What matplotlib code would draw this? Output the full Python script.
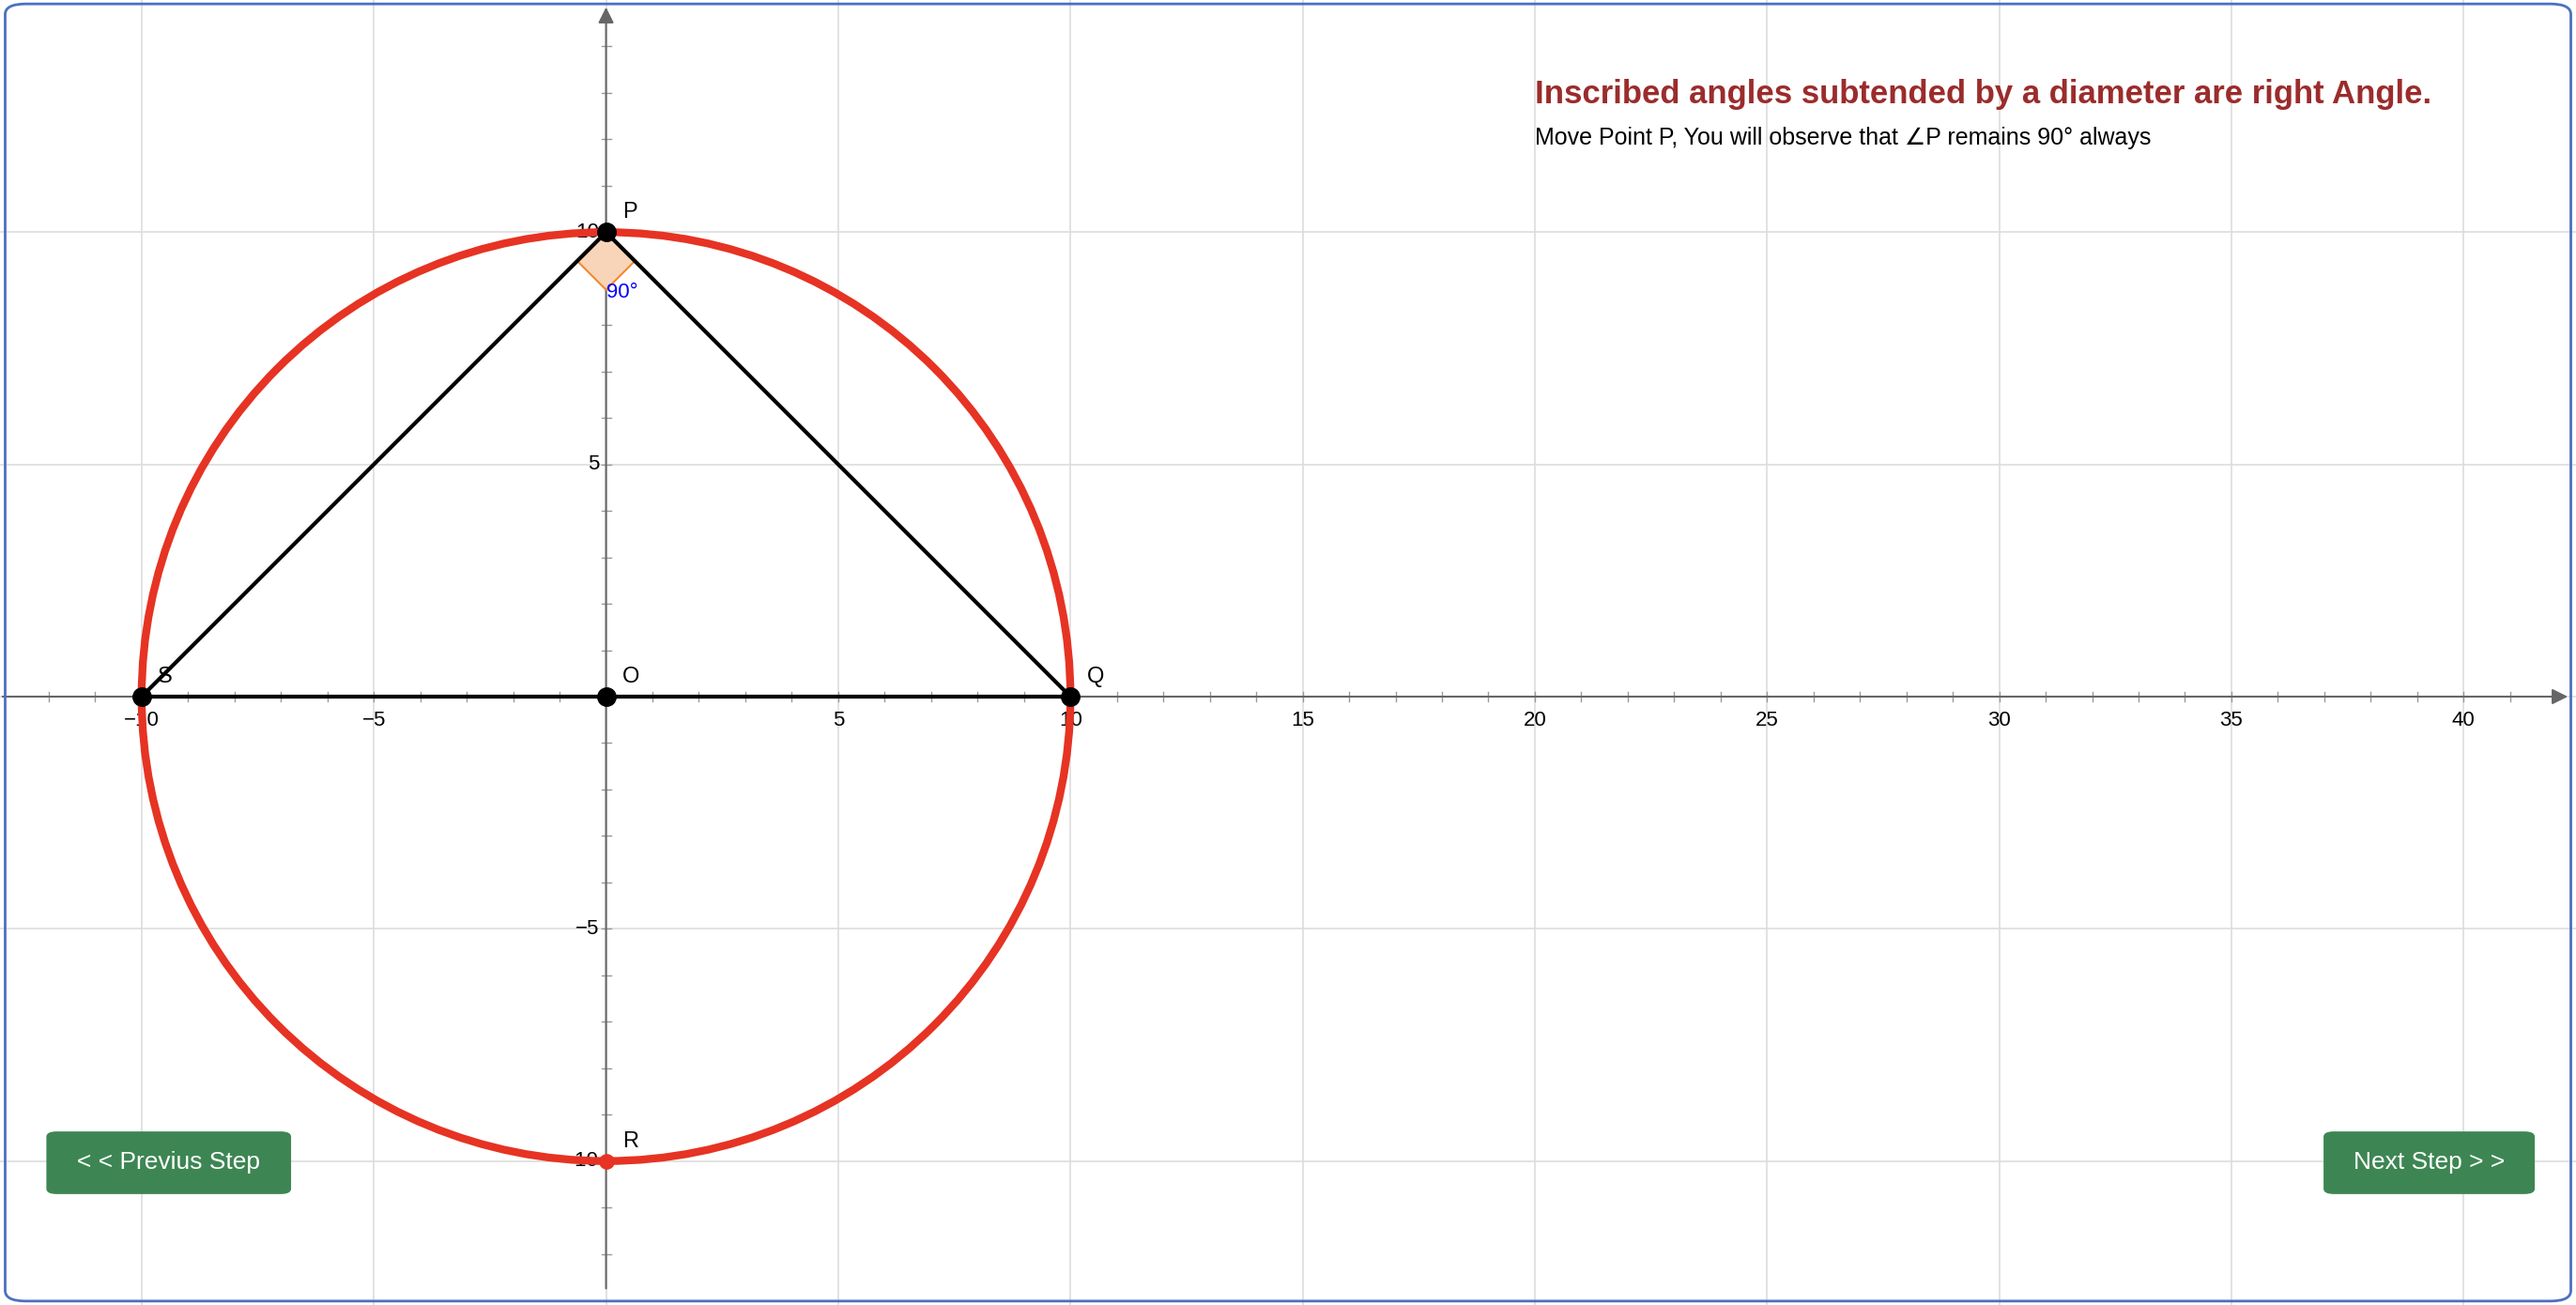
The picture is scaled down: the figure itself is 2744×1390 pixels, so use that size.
import numpy as np
import matplotlib.pyplot as plt
from matplotlib.patches import Circle, Polygon, FancyBboxPatch

plt.rcParams['font.family'] = ['Liberation Sans', 'DejaVu Sans']

radius = 10
points = {'P': (0, 10), 'Q': (10, 0), 'S': (-10, 0), 'O': (0, 0), 'R': (0, -10)}
x_ticks = [-10, -5, 5, 10, 15, 20, 25, 30, 35, 40]
y_ticks = [-10, -5, 5, 10]
angle_label = '90°'
title = 'Inscribed angles subtended by a diameter are right Angle.'
subtitle = 'Move Point P, You will observe that ∠P remains 90° always'

fig = plt.figure(figsize=(27.44, 13.90), dpi=100)
ax = fig.add_axes([0, 0, 1, 1])
ax.set_xlim(-13.05, 42.42)
ax.set_ylim(-13.1, 15.0)
ax.axis('off')

# grid
for gx in range(-10, 45, 5):
    ax.axvline(gx, color='#dddddd', lw=1.2, zorder=0)
for gy in range(-10, 15, 5):
    ax.axhline(gy, color='#dddddd', lw=1.2, zorder=0)

# axes with arrows
ax.annotate('', xy=(42.3, 0), xytext=(-13.05, 0),
            arrowprops=dict(arrowstyle='-|>', color='#666666', lw=1.5, mutation_scale=25))
ax.annotate('', xy=(0, 14.9), xytext=(0, -12.8),
            arrowprops=dict(arrowstyle='-|>', color='#666666', lw=1.5, mutation_scale=25))
for t in range(-12, 42):
    if t != 0:
        ax.plot([t, t], [-0.1, 0.1], color='#999999', lw=1, zorder=1)
for t in range(-12, 15):
    if t != 0:
        ax.plot([-0.1, 0.1], [t, t], color='#999999', lw=1, zorder=1)
for t in x_ticks:
    ax.text(t, -0.3, str(t).replace('-', '−'), ha='center', va='top', fontsize=16)
for t in y_ticks:
    ax.text(-0.15, t, str(t).replace('-', '−'), ha='right', va='center', fontsize=16)

# circle
ax.add_patch(Circle((0, 0), radius, fill=False, color='#e63323', lw=6, zorder=3))

# triangle and diameter
P, Q, S = points['P'], points['Q'], points['S']
ax.plot([S[0], P[0], Q[0]], [S[1], P[1], Q[1]], color='black', lw=3, zorder=4)
ax.plot([S[0], Q[0]], [S[1], Q[1]], color='black', lw=3, zorder=4)

# right angle marker
d = 0.62
ax.add_patch(Polygon([(0, 10), (-d, 10 - d), (0, 10 - 2 * d), (d, 10 - d)],
                     closed=True, facecolor='#f8d5b8', edgecolor='#f08a30', lw=1.5, zorder=3))
ax.text(0, 10 - 2 * d - 0.05, angle_label, color='blue', fontsize=16, ha='left', va='center', zorder=6)

# points
for name, (px, py) in points.items():
    c = '#e63323' if name == 'R' else 'black'
    ax.plot(px, py, 'o', color=c, ms=14 if name != 'R' else 11, zorder=5)
    ax.text(px + 0.35, py + 0.2, name, fontsize=17, ha='left', va='bottom', zorder=6)

# title texts
fig.text(0.596, 0.928, title, color='#9b2c2c', fontsize=25, fontweight='bold', ha='left', va='center')
fig.text(0.596, 0.894, subtitle, color='black', fontsize=18, ha='left', va='center')

# buttons
for x0, w, label in [(0.018, 0.095, '< < Previus Step'), (0.902, 0.082, 'Next Step > >')]:
    fig.patches.append(FancyBboxPatch((x0, 0.085), w, 0.048, boxstyle='round,pad=0,rounding_size=0.004',
                                      transform=fig.transFigure, facecolor='#3d8653', edgecolor='none'))
    fig.text(x0 + w / 2, 0.109, label, color='white', fontsize=19, ha='center', va='center')

# outer frame
fig.patches.append(FancyBboxPatch((0.002, 0.003), 0.996, 0.994, boxstyle='round,pad=0,rounding_size=0.008',
                                  transform=fig.transFigure, facecolor='none', edgecolor='#4a70c0', lw=2))

fig.savefig('out.png', dpi=100)
